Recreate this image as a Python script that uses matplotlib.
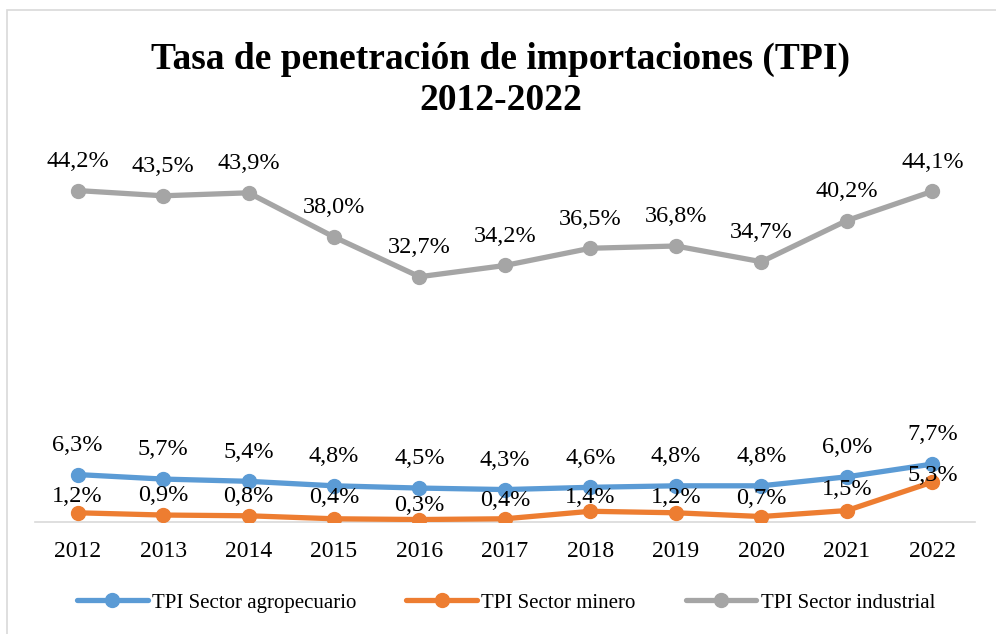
import matplotlib.pyplot as plt
from matplotlib.patches import Rectangle

# -----------------------------
# Data
# -----------------------------
years = ["2012", "2013", "2014", "2015", "2016", "2017", "2018", "2019", "2020", "2021", "2022"]
agro = [6.3, 5.7, 5.4, 4.8, 4.5, 4.3, 4.6, 4.8, 4.8, 6.0, 7.7]
minero = [1.2, 0.9, 0.8, 0.4, 0.3, 0.4, 1.4, 1.2, 0.7, 1.5, 5.3]
industrial = [44.2, 43.5, 43.9, 38.0, 32.7, 34.2, 36.5, 36.8, 34.7, 40.2, 44.1]

plt.rcParams['font.family'] = ['Liberation Serif', 'DejaVu Serif']

fig = plt.figure(figsize=(9.96, 6.34), dpi=100, facecolor='white')
ax = fig.add_axes([0.035, 0.177, 0.944, 0.591])

x = range(len(years))
series = [
    (agro, "#5B9BD5", "TPI Sector agropecuario"),
    (minero, "#ED7D31", "TPI Sector minero"),
    (industrial, "#A5A5A5", "TPI Sector industrial"),
]
for vals, col, name in series:
    ax.plot(x, vals, color=col, linewidth=3.8, marker='o', markersize=10,
            label=name, solid_capstyle='round', zorder=3)

def fmt(v):
    return f"{v:.1f}%".replace(".", ",")

# label offsets in points
for i, v in enumerate(industrial):
    ax.annotate(fmt(v), (i, v), xytext=(0, 21), textcoords='offset points',
                ha='center', va='center', fontsize=17.5)
for i, v in enumerate(agro):
    ax.annotate(fmt(v), (i, v), xytext=(0, 21), textcoords='offset points',
                ha='center', va='center', fontsize=17.5)
min_off = [12, 14, 14, 15, 10, 13, 10, 11, 13, 15, 5]
for i, v in enumerate(minero):
    ax.annotate(fmt(v), (i, v), xytext=(0, min_off[i]), textcoords='offset points',
                ha='center', va='center', fontsize=17.5)

ax.set_xlim(-0.5, len(years) - 0.5)
ax.set_ylim(0, 50)
ax.set_xticks(list(x))
ax.set_xticklabels(years, fontsize=17)
ax.set_yticks([])
ax.tick_params(axis='x', length=0, pad=14)
for s in ["top", "right", "left"]:
    ax.spines[s].set_visible(False)
ax.spines["bottom"].set_color("#D9D9D9")
ax.spines["bottom"].set_linewidth(1.2)

fig.text(0.503, 0.907, "Tasa de penetración de importaciones (TPI)",
         ha='center', va='center', fontsize=27, fontweight='bold')
fig.text(0.503, 0.841, "2012-2022", ha='center', va='center',
         fontsize=27, fontweight='bold')

fig.legend(loc='center', bbox_to_anchor=(0.508, 0.049), ncol=3, frameon=False,
           fontsize=15, handlelength=3.4, columnspacing=2.4, handletextpad=0.2)

fig.patches.append(Rectangle((0.007, -0.01), 1.0, 0.994, transform=fig.transFigure,
                             fill=False, edgecolor="#D9D9D9", linewidth=1.2))

plt.savefig("out.png", dpi=100)
